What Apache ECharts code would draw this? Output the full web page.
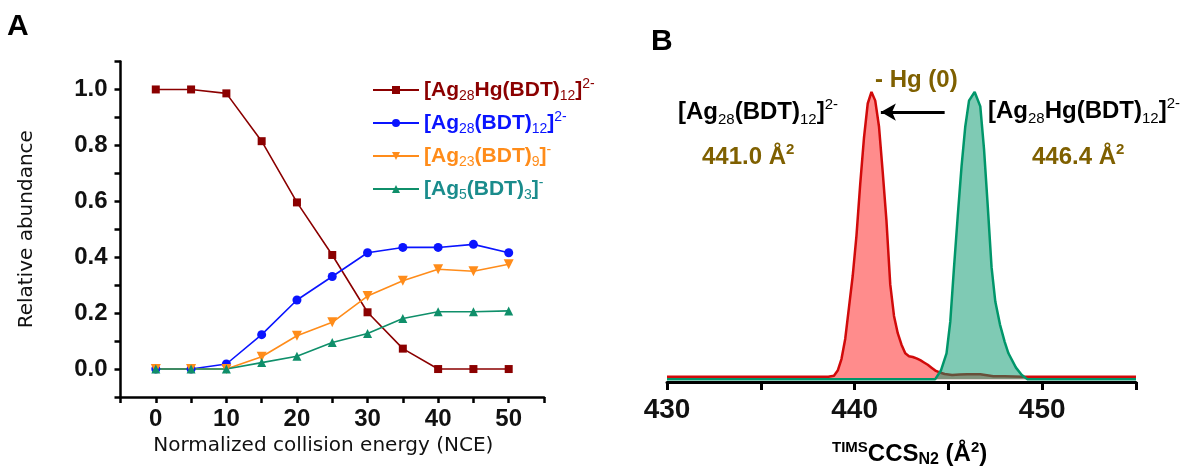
<!DOCTYPE html>
<html>
<head>
<meta charset="utf-8">
<script src="https://cdn.jsdelivr.net/npm/echarts@6/dist/echarts.min.js"></script>
<style>
  html, body { margin: 0; padding: 0; background: #fff; }
  #chart { width: 1198px; height: 467px; }
</style>
</head>
<body>
<div id="chart"></div>
<script>
// ---- panel A: relative abundance vs NCE ----
const nce = [0, 5, 10, 15, 20, 25, 30, 35, 40, 45, 50];
const agHg = [1.0, 1.0, 0.986, 0.815, 0.596, 0.408, 0.203, 0.073, 0, 0, 0];
const ag28 = [0, 0, 0.018, 0.123, 0.247, 0.331, 0.416, 0.435, 0.435, 0.446, 0.416];
const ag23 = [0, 0, 0, 0.044, 0.119, 0.167, 0.261, 0.316, 0.357, 0.350, 0.375];
const ag5 = [0, 0, 0, 0.023, 0.046, 0.095, 0.127, 0.181, 0.205, 0.205, 0.208];

// ---- panel B: mobilograms (CCS, normalized intensity) ----
const ccsRed = [430, 438.6, 438.9, 439.1, 439.3, 439.5, 439.7, 439.9, 440.1, 440.3, 440.5, 440.7, 440.9,
  441.1, 441.3, 441.5, 441.7, 441.9, 442.1, 442.3, 442.5, 442.7, 442.9, 443.1, 443.3, 443.5, 443.7,
  443.9, 444.1, 444.3, 444.5, 444.8, 445.2, 445.6, 446.0, 446.7, 447.4, 448.0, 449.0, 455];
const intRed = [0.008, 0.008, 0.012, 0.03, 0.07, 0.14, 0.25, 0.36, 0.5, 0.68, 0.84, 0.96, 1.0,
  0.97, 0.88, 0.72, 0.55, 0.33, 0.22, 0.16, 0.12, 0.09, 0.08, 0.077, 0.072, 0.066, 0.058,
  0.05, 0.04, 0.03, 0.024, 0.018, 0.014, 0.016, 0.017, 0.017, 0.01, 0.01, 0.008, 0.008];
const ccsGreen = [430, 444.3, 444.6, 444.9, 445.1, 445.3, 445.5, 445.7, 445.9, 446.1, 446.4, 446.7,
  446.9, 447.1, 447.3, 447.5, 447.75, 448.0, 448.2, 448.6, 448.9, 449.2, 455];
const intGreen = [0, 0, 0.03, 0.09, 0.2, 0.39, 0.57, 0.74, 0.88, 0.97, 1.0, 0.95,
  0.8, 0.6, 0.39, 0.27, 0.19, 0.13, 0.09, 0.04, 0.015, 0, 0];

const cRed = '#8b0000', cBlue = '#0a14ff', cOrange = '#ff8c1a', cGreen = '#0f8f6a', cTeal = '#1a8c8c';
const olive = '#7f6000';
const fontMain = 'Liberation Sans, Arial, sans-serif';

const pair = (xs, ys) => xs.map((x, i) => [x, ys[i]]);

// rich styles for the legend, one set per colour
function richSet(key, color) {
  const o = {};
  o[key] = { color: color, fontSize: 21, fontWeight: 'bold', fontFamily: fontMain, lineHeight: 26 };
  o[key + 'b'] = { color: color, fontSize: 14, fontFamily: fontMain, lineHeight: 14, verticalAlign: 'bottom' };
  o[key + 'p'] = { color: color, fontSize: 14, fontFamily: fontMain, lineHeight: 14, verticalAlign: 'top' };
  return o;
}
const legendRich = Object.assign({}, richSet('r', cRed), richSet('u', cBlue), richSet('o', cOrange), richSet('g', cTeal));
const legendText = {
  'Ag28Hg': '{r|[Ag}{rb|28}{r|Hg(BDT)}{rb|12}{r|]}{rp|2-}',
  'Ag28': '{u|[Ag}{ub|28}{u|(BDT)}{ub|12}{u|]}{up|2-}',
  'Ag23': '{o|[Ag}{ob|23}{o|(BDT)}{ob|9}{o|]}{op|-}',
  'Ag5': '{g|[Ag}{gb|5}{g|(BDT)}{gb|3}{g|]}{gp|-}'
};

// rich styles for the annotations of panel B (graphic text uses fill)
const st = (size, bold, color, lh, va) => ({
  fontSize: size, fontWeight: bold ? 'bold' : 'normal', fontFamily: fontMain,
  fill: color, color: color, lineHeight: lh, verticalAlign: va
});
const labelRich = {
  m: st(24, true, '#000', 30),
  b: st(15, false, '#000', 16, 'bottom'),
  p: st(15, false, '#000', 16, 'top'),
  om: st(24, true, olive, 30),
  op: st(15, true, olive, 16, 'top'),
  tm: st(24, true, '#000', 28),
  ts: st(15, true, '#000', 14, 'top'),
  tb: st(16, true, '#000', 14, 'bottom')
};

const chart = echarts.init(document.getElementById('chart'), null, { renderer: 'canvas' });

const option = {
  animation: false,
  backgroundColor: '#fff',
  grid: [
    { left: 120.5, top: 61.5, width: 423.5, height: 335.5 },
    { left: 667, top: 63.3, width: 469, height: 318.7 }
  ],
  legend: {
    orient: 'vertical',
    left: 367,
    top: 72,
    itemWidth: 46,
    itemHeight: 10,
    itemGap: 7,
    data: ['Ag28Hg', 'Ag28', 'Ag23', 'Ag5'],
    formatter: name => legendText[name],
    textStyle: { rich: legendRich }
  },
  xAxis: [
    {
      gridIndex: 0, type: 'value', min: -5, max: 55, interval: 5,
      name: 'Normalized collision energy (NCE)', nameLocation: 'middle', nameGap: 30,
      nameTextStyle: { fontSize: 20, fontFamily: 'DejaVu Sans, sans-serif', color: '#111', padding: [0, 18, 0, 0] },
      axisLine: { onZero: false, lineStyle: { color: '#000', width: 2.5 } },
      axisTick: { length: 6, lineStyle: { width: 2.5, color: '#000' } },
      axisLabel: {
        fontSize: 24, fontWeight: 'bold', fontFamily: fontMain, color: '#111', margin: 10,
        formatter: v => (v >= 0 && v <= 50 && v % 10 === 0) ? String(v) : ''
      },
      splitLine: { show: false }
    },
    {
      gridIndex: 1, type: 'value', min: 430, max: 455, interval: 5,
      axisLine: { onZero: false, lineStyle: { color: '#000', width: 3 } },
      axisTick: { length: 8, lineStyle: { width: 3, color: '#000' } },
      axisLabel: {
        fontSize: 28, fontWeight: 'bold', fontFamily: fontMain, color: '#111', margin: 14,
        formatter: v => (v % 10 === 0) ? String(v) : ''
      },
      splitLine: { show: false }
    }
  ],
  yAxis: [
    {
      gridIndex: 0, type: 'value', min: -0.1, max: 1.1, interval: 0.1,
      name: 'Relative abundance', nameLocation: 'middle', nameGap: 84, nameRotate: 90,
      nameTextStyle: { fontSize: 20, fontFamily: 'DejaVu Sans, sans-serif', color: '#111' },
      axisLine: { show: true, onZero: false, lineStyle: { color: '#000', width: 2.5 } },
      axisTick: { show: true, length: 6, lineStyle: { width: 2.5, color: '#000' } },
      axisLabel: {
        fontSize: 24, fontWeight: 'bold', fontFamily: fontMain, color: '#111', margin: 13,
        formatter: v => {
          const r = Math.round(v * 10);
          return (r >= 0 && r <= 10 && r % 2 === 0) ? (r / 10).toFixed(1) : '';
        }
      },
      splitLine: { show: false }
    },
    {
      gridIndex: 1, type: 'value', min: -0.01, max: 1.1, show: false
    }
  ],
  series: [
    {
      name: 'Ag28Hg', type: 'line', xAxisIndex: 0, yAxisIndex: 0, data: pair(nce, agHg),
      symbol: 'rect', symbolSize: 8, itemStyle: { color: cRed }, lineStyle: { color: cRed, width: 1.6 }
    },
    {
      name: 'Ag28', type: 'line', xAxisIndex: 0, yAxisIndex: 0, data: pair(nce, ag28),
      symbol: 'circle', symbolSize: 9, itemStyle: { color: cBlue }, lineStyle: { color: cBlue, width: 1.6 }
    },
    {
      name: 'Ag23', type: 'line', xAxisIndex: 0, yAxisIndex: 0, data: pair(nce, ag23),
      symbol: 'triangle', symbolRotate: 180, symbolSize: 10, itemStyle: { color: cOrange }, lineStyle: { color: cOrange, width: 1.6 }
    },
    {
      name: 'Ag5', type: 'line', xAxisIndex: 0, yAxisIndex: 0, data: pair(nce, ag5),
      symbol: 'triangle', symbolSize: 9, itemStyle: { color: cGreen }, lineStyle: { color: cGreen, width: 1.6 }
    },
    {
      name: 'red', type: 'line', xAxisIndex: 1, yAxisIndex: 1, data: pair(ccsRed, intRed),
      showSymbol: false, lineStyle: { color: '#d10a0a', width: 2.5 },
      areaStyle: { color: '#ff1a1a', opacity: 0.5 }, z: 2
    },
    {
      name: 'green', type: 'line', xAxisIndex: 1, yAxisIndex: 1, data: pair(ccsGreen, intGreen),
      showSymbol: false, lineStyle: { color: '#00966a', width: 2.5 },
      areaStyle: { color: '#00966a', opacity: 0.5 }, z: 3,
      markLine: {
        silent: true, symbolSize: [13, 15],
        lineStyle: { color: '#000', width: 3, type: 'solid' },
        label: { show: false },
        data: [[{ coord: [444.8, 0.93], symbol: 'none' }, { coord: [441.4, 0.93], symbol: 'arrow' }]]
      }
    }
  ],
  graphic: [
    { type: 'text', left: 7, top: 12, style: { text: 'A', font: 'bold 30px ' + fontMain, fill: '#000' } },
    { type: 'text', left: 651, top: 27, style: { text: 'B', font: 'bold 30px ' + fontMain, fill: '#000' } },
    { type: 'text', x: 875, y: 80, style: { text: '- Hg (0)', font: 'bold 24px ' + fontMain, fill: olive, verticalAlign: 'middle' } },
    { type: 'text', x: 678, y: 112, style: { text: '{m|[Ag}{b|28}{m|(BDT)}{b|12}{m|]}{p|2-}', rich: labelRich, verticalAlign: 'middle' } },
    { type: 'text', x: 988, y: 111, style: { text: '{m|[Ag}{b|28}{m|Hg(BDT)}{b|12}{m|]}{p|2-}', rich: labelRich, verticalAlign: 'middle' } },
    { type: 'text', x: 702, y: 157, style: { text: '{om|441.0 Å}{op|2}', rich: labelRich, verticalAlign: 'middle' } },
    { type: 'text', x: 1032, y: 157, style: { text: '{om|446.4 Å}{op|2}', rich: labelRich, verticalAlign: 'middle' } },
    { type: 'text', x: 832, y: 454, style: { text: '{ts|TIMS}{tm|CCS}{tb|N2}{tm| (Å}{ts|2}{tm|)}', rich: labelRich, verticalAlign: 'middle' } }
  ]
};

chart.setOption(option);
</script>
</body>
</html>
